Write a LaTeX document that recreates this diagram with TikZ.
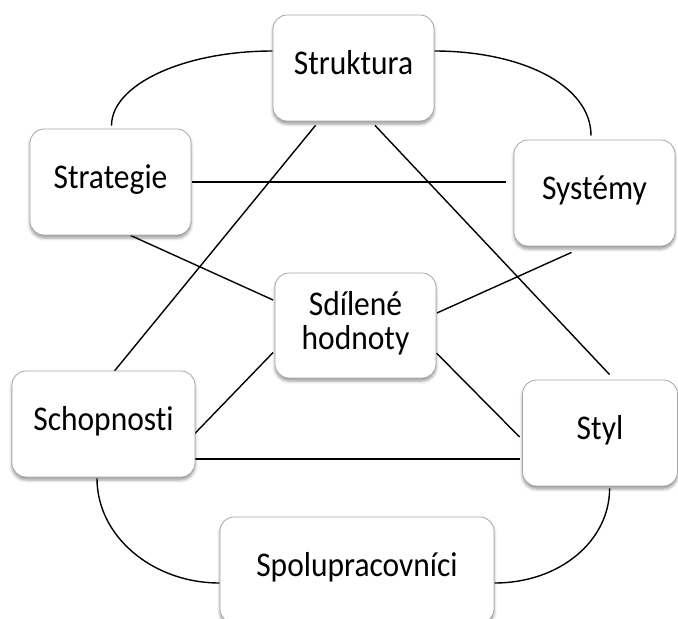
\documentclass[tikz,border=0pt]{standalone}
\usepackage{fontspec}
\usepackage{graphicx}
\setmainfont{Carlito}[Ligatures=NoCommon]
\usetikzlibrary{calc,shadows.blur}
\pgfdeclarelayer{background}
\pgfsetlayers{background,main}
% labels are set slightly taller than wide
\newcommand{\boxlabel}[1]{\scalebox{1}[1.1]{\begin{tabular}{@{}c@{}}#1\end{tabular}}}
\begin{document}
\begin{tikzpicture}[x=1pt,y=-1pt,
  box/.style={draw=black!35, line width=0.8pt, rounded corners=14pt,
    fill=white, minimum height=106pt, inner sep=0pt, align=center,
    font=\fontsize{31.5}{31}\selectfont,
    blur shadow={shadow xshift=0pt, shadow yshift=-3pt,
      shadow blur radius=3pt, shadow opacity=40}},
  link/.style={line width=1.4pt, black}]
\useasboundingbox (0,0) rectangle (678,619);

% the seven elements
\node[box, minimum width=161pt] (strukt) at (353.5,68)  {\boxlabel{Struktura}};
\node[box, minimum width=161pt] (strat)  at (110.5,182) {\boxlabel{Strategie}};
\node[box, minimum width=161pt] (sys)    at (594.5,193) {\boxlabel{Systémy}};
\node[box, minimum width=161pt, minimum height=105pt] (sdil) at (355.5,325.5) {\boxlabel{Sdílené\\hodnoty}};
\node[box, minimum width=183pt] (schop)  at (103.5,424) {\boxlabel{Schopnosti}};
\node[box, minimum width=155pt] (styl)   at (600,433)   {\boxlabel{Styl}};
\node[box, minimum width=274pt] (spol)   at (357,570)   {\boxlabel{Spolupracovníci}};

% connections, kept behind the boxes
\begin{pgfonlayer}{background}
  % outer ring arcs
  \draw[link] ($(strukt.west)+(0,-17)$) .. controls +(-89,0) and +(0,-41) .. ($(strat.north)+(1,-3)$);
  \draw[link] ($(strukt.east)+(0,-17)$) .. controls +(86,0) and +(0,-51) .. ($(sys.north)+(-3.5,-4)$);
  \draw[link] ($(schop.south)+(-6.5,1)$) .. controls +(0,58) and +(-67,0) .. ($(spol.west)+(0,13)$);
  \draw[link] ($(styl.south)+(9.6,2)$) .. controls +(0,52) and +(66,0) .. ($(spol.east)+(0,13)$);
  % straight links
  \draw[link] ($(strat.east)+(1,0)$) -- ($(sys.west)+(-8,-11)$);
  \draw[link] ($(strat.south)+(20,0)$) -- ($(sdil.west)+(-1.5,-25.5)$);
  \draw[link] ($(sys.south)+(-23,6)$) -- ($(sdil.east)+(0.5,-12.5)$);
  \draw[link] ($(strukt.south)+(-38,4)$) -- ($(schop.north)+(8,4)$);
  \draw[link] ($(strukt.south)+(21.5,4)$) -- ($(styl.north)+(9.6,-5)$);
  \draw[link] ($(sdil.west)+(-1.5,27)$) -- ($(schop.east)+(-2,11)$);
  \draw[link] ($(sdil.east)+(0,27.5)$) -- ($(styl.west)+(-2.5,4)$);
  \draw[link] ($(schop.east)+(-2,35)$) -- ($(styl.west)+(-2.5,26)$);
\end{pgfonlayer}
\end{tikzpicture}
\end{document}
